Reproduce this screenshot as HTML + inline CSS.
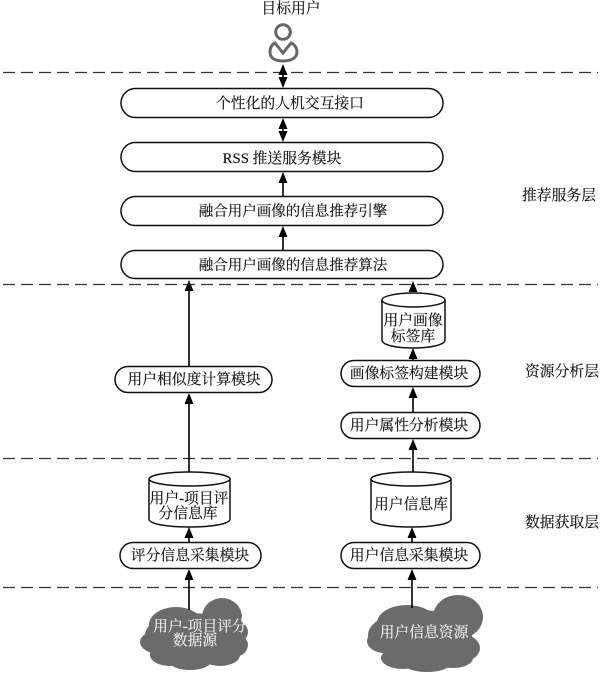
<!DOCTYPE html>
<html><head><meta charset="utf-8"><style>
html,body{margin:0;padding:0;background:#fff;width:600px;height:673px;overflow:hidden}
svg{display:block}
text{font-family:"Liberation Serif","Noto Serif CJK SC",serif;font-size:14.8px;fill:#111;stroke:#111;stroke-width:.15;text-anchor:middle}
.w{fill:#eee;stroke:#eee}
</style></head><body>
<svg width="600" height="673" viewBox="0 0 600 673" xmlns="http://www.w3.org/2000/svg">
<defs>
<g id="up"><path d="M0 0L-4.5 11H4.5Z" fill="#000"/></g>
</defs>
<!-- dashed lines -->
<g stroke="#333" stroke-width="1.3" stroke-dasharray="12 6" fill="none">
<line x1="3" y1="72.5" x2="598" y2="72.5"/>
<line x1="3" y1="284.5" x2="598" y2="284.5"/>
<line x1="3" y1="458.5" x2="598" y2="458.5"/>
<line x1="3" y1="587.5" x2="598" y2="587.5"/>
</g>
<!-- user icon -->
<circle cx="283" cy="32" r="7.300" fill="#fff" stroke="#666" stroke-width="3"/>
<path d="M275 43 L283 53 L291 43 C296 45 297 50 297 52 C297 58 291 61 283 61 C275 61 270 58 270 52 C270 49 271 45 275 43Z" fill="#fff" stroke="#666" stroke-width="3"/>
<!-- top rounded boxes -->
<g fill="#fff" stroke="#111" stroke-width="1.5">
<rect x="121" y="88.5" width="322" height="29" rx="14.5"/>
<rect x="121" y="142.5" width="322" height="29" rx="14.5"/>
<rect x="121" y="196.5" width="322" height="29" rx="14.5"/>
<rect x="121" y="250.5" width="322" height="28" rx="14"/>
<rect x="115" y="366.5" width="157" height="26" rx="13"/>
<rect x="341" y="360.5" width="139" height="26" rx="13"/>
<rect x="341" y="412.5" width="139" height="26" rx="13"/>
<rect x="120" y="542.5" width="141" height="26" rx="13"/>
<rect x="341" y="542.5" width="139" height="26" rx="13"/>
</g>
<!-- cylinders -->
<g fill="#fff" stroke="#111" stroke-width="1.5">
<path d="M382 300V340C382 345 396 348 413 348C430 348 445 345 445 340V300"/>
<ellipse cx="413.500" cy="300" rx="31.500" ry="7"/>
<path d="M149 479V519C149 524 167 527 189.500 527C212 527 230 524 230 519V479"/>
<ellipse cx="189.500" cy="479" rx="40.500" ry="7"/>
<path d="M371 479V519C371 524 389 527 411 527C433 527 451 524 451 519V479"/>
<ellipse cx="411" cy="479" rx="40" ry="7"/>
</g>
<!-- clouds -->
<g fill="#6b6b6b">
<ellipse cx="190" cy="635" rx="45" ry="22"/>
<ellipse cx="222" cy="617" rx="20" ry="19"/>
<ellipse cx="176" cy="625" rx="27" ry="18"/>
<ellipse cx="160" cy="642" rx="20" ry="12"/>
<ellipse cx="216" cy="632" rx="32" ry="17"/>
<ellipse cx="227" cy="645" rx="21" ry="14"/>
<ellipse cx="170" cy="655" rx="20" ry="11"/>
<ellipse cx="190" cy="660" rx="22" ry="10"/>
<ellipse cx="220" cy="655" rx="20" ry="11"/>
<ellipse cx="420" cy="635" rx="52" ry="25"/>
<ellipse cx="458" cy="617" rx="25" ry="22"/>
<ellipse cx="407" cy="623" rx="30" ry="18"/>
<ellipse cx="385" cy="641" rx="18" ry="12"/>
<ellipse cx="457" cy="648" rx="23" ry="15"/>
<ellipse cx="403" cy="658" rx="22" ry="11"/>
<ellipse cx="427" cy="662" rx="25" ry="10"/>
<ellipse cx="453" cy="658" rx="20" ry="10"/>
</g>
<!-- connectors -->
<g stroke="#000" stroke-width="1.6" fill="none">
<line x1="283" y1="70" x2="283" y2="84"/>
<line x1="283" y1="124" x2="283" y2="138"/>
<line x1="283" y1="178" x2="283" y2="196"/>
<line x1="283" y1="232" x2="283" y2="250"/>
<line x1="189" y1="290" x2="189" y2="366"/>
<line x1="189" y1="399" x2="189" y2="472"/>
<line x1="189" y1="533" x2="189" y2="542"/>
<line x1="189" y1="575" x2="189" y2="610"/>
<line x1="412" y1="575" x2="412" y2="608"/>
<line x1="412" y1="533" x2="412" y2="542"/>
<line x1="413" y1="445" x2="413" y2="472"/>
<line x1="413" y1="393" x2="413" y2="412"/>
<line x1="413" y1="354" x2="413" y2="360"/>
</g>
<use href="#up" x="283" y="64"/>
<use href="#up" transform="translate(283 88) scale(1 -1)"/>
<use href="#up" x="283" y="118"/>
<use href="#up" transform="translate(283 142) scale(1 -1)"/>
<use href="#up" x="283" y="172"/>
<use href="#up" x="283" y="226"/>
<use href="#up" x="189" y="280"/>
<use href="#up" x="189" y="393"/>
<use href="#up" x="189" y="527"/>
<use href="#up" x="189" y="569"/>
<use href="#up" x="412" y="569"/>
<use href="#up" x="412" y="527"/>
<use href="#up" x="413" y="439"/>
<use href="#up" x="413" y="387"/>
<use href="#up" x="413" y="348"/>
<use href="#up" x="413" y="281"/>
<!-- labels -->
<text x="291" y="13">目标用户</text>
<text x="290" y="108">个性化的人机交互接口</text>
<text x="282" y="163">RSS 推送服务模块</text>
<text x="293" y="216" style="font-size:14.5px">融合用户画像的信息推荐引擎</text>
<text x="293" y="270" style="font-size:14.5px">融合用户画像的信息推荐算法</text>
<text x="194" y="384">用户相似度计算模块</text>
<text x="409" y="378">画像标签构建模块</text>
<text x="409" y="430">用户属性分析模块</text>
<text x="190" y="560">评分信息采集模块</text>
<text x="409" y="560">用户信息采集模块</text>
<text x="413" y="325">用户画像</text>
<text x="413" y="341">标签库</text>
<text x="189" y="503">用户-项目评</text>
<text x="188" y="518">分信息库</text>
<text x="411" y="509">用户信息库</text>
<text x="559" y="200">推荐服务层</text>
<text x="562" y="376">资源分析层</text>
<text x="562" y="527">数据获取层</text>
<text x="200" y="631" class="w">用户-项目评分</text>
<text x="195" y="645" class="w">数据源</text>
<text x="424" y="637" class="w">用户信息资源</text>
</svg>
</body></html>
